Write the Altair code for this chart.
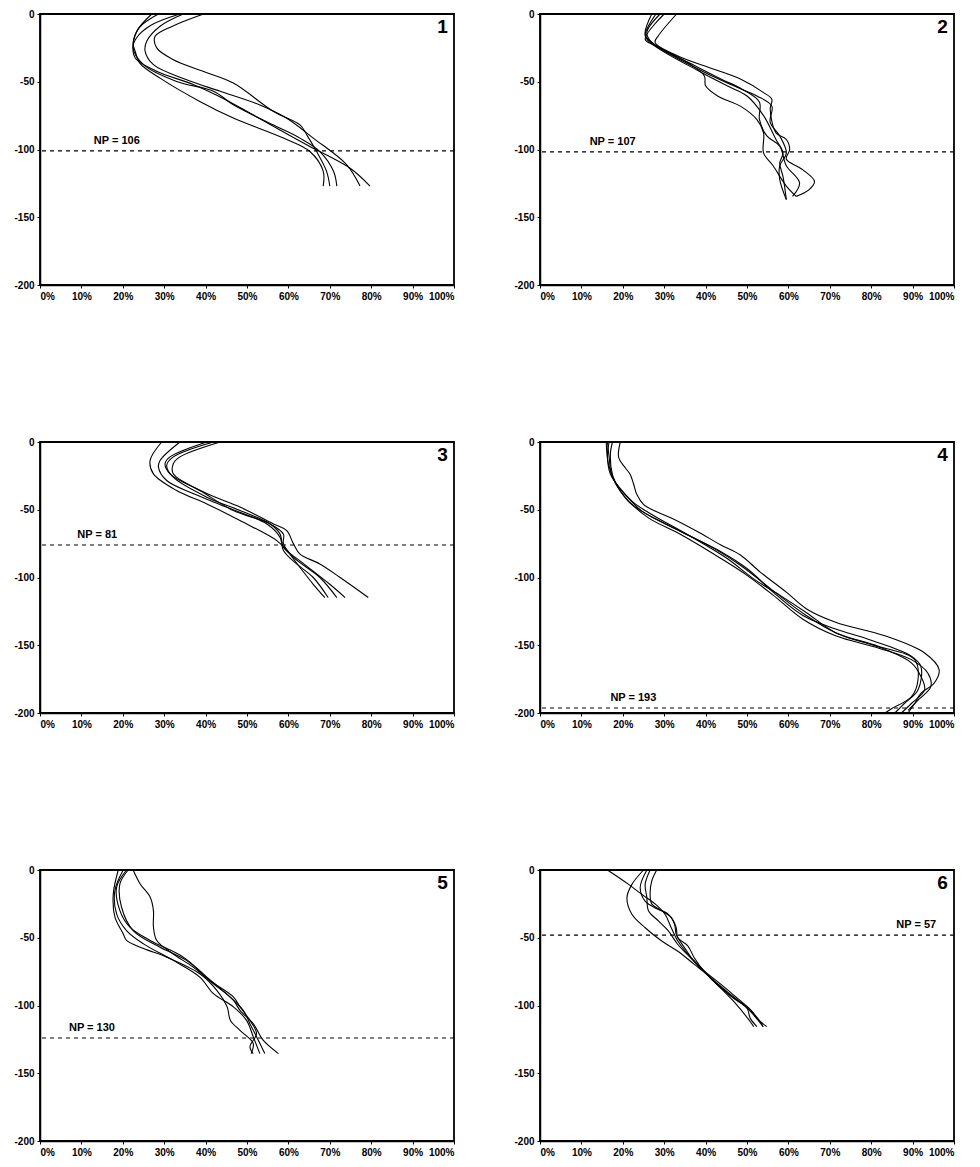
import altair as alt
import pandas as pd

# ---------------- data ----------------
PANEL_IDS = ["1", "2", "3", "4", "5", "6"]
NP_LABELS = ["NP = 106", "NP = 107", "NP = 81", "NP = 193", "NP = 130", "NP = 57"]
NP_DEPTH = [-101, -101.7, -76, -196.3, -124, -48]
NP_LABEL_X = [13, 12, 9, 17, 7, 95.7]

# panel 1 profiles: x = percent, y = depth
P1_X = [
    [27, 23.5, 22.5, 23, 24.1, 29, 38.6, 46.7, 58.8, 65.2, 68.4, 68.4],
    [28.6, 24, 22.5, 23, 28, 37, 42.7, 48.3, 57, 64.4, 75, 79.7],
    [33.8, 27, 23.3, 22.5, 25, 33, 41.9, 46.7, 56.4, 62.8, 67.6, 70.9, 71.7],
    [34.6, 29, 25.8, 25.4, 27.4, 35.4, 43.5, 53, 59.6, 66, 74, 77.3],
    [39.5, 32, 27.8, 28.2, 32.2, 39.5, 46.7, 56.4, 62.8, 64.4, 66.8, 69.2, 70],
]
P1_Y = [
    [0, -12, -22, -27.6, -36.2, -47.3, -64.5, -76.8, -91.6, -101.5, -116, -127],
    [0, -10, -22, -32.5, -42, -52, -60, -69, -84, -96.5, -114, -127],
    [0, -8, -17.7, -25, -37.4, -49.8, -57, -67, -82, -91.6, -101.5, -116, -127],
    [0, -9, -20, -27.6, -37.4, -48.5, -57, -67, -77, -91.6, -111, -127],
    [0, -9, -16.5, -25, -33.7, -42.4, -51, -72, -81.8, -89, -101.5, -116, -127],
]

P2_X = [
    [27, 25.4, 27, 35.7, 39.7, 40, 42.9, 48.4, 52.4, 54, 54, 56.3, 59.5, 61.9],
    [33, 28.6, 27.8, 33.3, 42, 48.4, 54, 56, 55.6, 57, 59.5, 60.3, 59.5, 63.5, 66.3, 65, 61.9],
    [29, 25.8, 27, 37.3, 43.7, 48.8, 53, 53, 54.8, 57.9, 59.5, 62.7, 61],
    [30, 25.4, 27.8, 39.7, 46.8, 52.4, 56, 55.6, 57.9, 59.5, 57.9, 57.9, 59.5],
    [28, 25.4, 27, 38.9, 45.2, 50, 54, 57, 58.7, 57.9, 58.7, 59.5],
]
P2_Y = [
    [0, -15, -21, -36, -45.7, -53, -60.5, -68, -78, -87.7, -102.5, -112, -127, -134.6],
    [0, -16, -21, -31, -40.7, -48, -58, -63, -70, -87.7, -92.6, -100, -107, -115, -123.5, -129.6, -134.6],
    [0, -13.6, -21, -38, -48, -55.5, -65, -77.8, -90, -97.5, -112, -124.7, -134.6],
    [0, -18.5, -23.5, -43, -53, -60.5, -68, -80, -90, -102.5, -112, -122, -137],
    [0, -16, -22, -43, -53, -60.5, -75, -92.6, -102.5, -110, -120, -137],
]

P3_X = [
    [29.4, 26.6, 27.4, 33, 40.3, 48.3, 57.2, 59.6, 62.8, 66, 68.8],
    [33.8, 29, 28.6, 30.6, 37, 45, 54.8, 58, 58.8, 62, 66, 69.6],
    [40.3, 31.4, 30.2, 31.4, 38.6, 46.7, 55.6, 58.8, 58.8, 61.2, 67.6, 71.7],
    [41.9, 32.2, 30.6, 32.2, 40.3, 48.3, 55.6, 58, 58.8, 62.8, 70, 73.7],
    [43.5, 33.8, 32.2, 32.2, 40.3, 48.3, 56.4, 59.6, 61.2, 62.8, 67.6, 72.5, 79.3],
]
P3_Y = [
    [0, -13.6, -23.5, -35.8, -45.7, -58, -72.8, -80, -92.6, -105, -114.8],
    [0, -13.6, -18.5, -28.4, -38, -48, -60.5, -70.4, -80, -90, -100, -114.8],
    [0, -11, -16, -23.5, -35.8, -50.6, -60.5, -68, -75, -85, -100, -114.8],
    [0, -11, -17.3, -26, -40.7, -50.6, -60.5, -68, -77.8, -87.7, -105, -114.8],
    [0, -11, -16, -23.5, -38, -48, -60.5, -65.4, -75, -82.7, -90, -100, -114.8],
]

P4_X = [
    [19.4, 19, 20.6, 21.8, 22.6, 23.4, 25, 27.8, 31.7, 38, 43.7, 48.4, 53.2, 59.5, 64.3, 71.4, 83.3, 92.9, 96.4, 95.2, 92, 90.5, 88.9],
    [17.5, 17, 17.5, 19, 21.4, 24.6, 29.4, 35.7, 43.7, 50, 56.3, 63.5, 71.4, 79.4, 89.7, 92, 91.3, 88, 85.7],
    [16.7, 16.3, 17, 20.6, 24.6, 34, 42, 48.4, 55.6, 64.3, 71.4, 81.7, 90.5, 91.3, 89.7, 84.9, 83.3],
    [16.3, 16.7, 17.5, 22.2, 27, 35.7, 45.2, 51.6, 57.9, 64.3, 71.4, 83.3, 89.7, 92, 92.9, 89.7, 87.3],
    [16, 16.5, 18.3, 21.4, 26.2, 34.1, 43.7, 50, 56.3, 63.5, 71.4, 81.7, 89.7, 93.7, 94.4, 91.3, 88.9],
]
P4_Y = [
    [0, -11.4, -19, -24, -31, -38.8, -46, -51, -56, -66, -76, -83.4, -96, -110.8, -123, -133, -143, -155.7, -168, -178, -185.5, -193, -200],
    [0, -9, -24, -34, -44, -51, -59, -68.7, -81, -93.4, -110.8, -128, -138, -145.7, -158, -165.6, -183, -193, -200],
    [0, -8.7, -23.7, -38.6, -51, -66, -78.5, -91, -108, -128, -140.7, -150.7, -160.6, -175.6, -188, -196.8, -200],
    [0, -11, -26, -43.6, -53.5, -68.5, -86, -101, -113, -125.8, -140.7, -153, -163, -173, -183, -193, -200],
    [0, -16, -31, -43.6, -56, -68.5, -86, -98.4, -113, -130.8, -143, -152, -160.6, -170.6, -180.6, -190.5, -198],
]

P5_X = [
    [22.5, 24.2, 26.6, 27.4, 27.4, 28.2, 32.2, 37, 41.9, 46.7, 48.3, 51.5, 53.9, 57.6],
    [18.9, 17.7, 18.1, 20.1, 20.9, 25, 30.6, 38.6, 42.7, 45.2, 46, 48.3, 51.5, 51],
    [20.1, 18.1, 18.5, 20.9, 25, 32.2, 38.6, 41.9, 46.7, 49.9, 51.5, 53.1],
    [20.9, 18.5, 19.3, 21.7, 26.6, 34.6, 40.3, 45, 49.1, 50.7, 52.3, 54.3],
    [21.3, 19.3, 19.7, 22.5, 29, 35.4, 41, 46.7, 48.3, 50.7, 52.3, 50.7, 51.5],
]
P5_Y = [
    [0, -10.3, -20, -30, -42, -52, -62, -71.7, -84, -96, -103.6, -113.4, -125.6, -135.5],
    [0, -17.7, -34.8, -47, -52, -58, -64.3, -76.6, -88.8, -101, -111, -118.3, -128, -135.5],
    [0, -15, -32.4, -44.7, -54.5, -66.7, -79, -91.3, -101, -111, -123, -135.5],
    [0, -12.8, -30, -42.2, -52, -64.3, -79, -91.3, -103.6, -113.4, -123, -135.5],
    [0, -10.3, -27.5, -44.7, -57, -66.7, -81.5, -93.7, -101, -111, -120.7, -130.5, -135.5],
]

P6_X = [
    [16.3, 21.4, 24.6, 27.8, 30.2, 31.7, 33.3, 35.7, 38.9, 43, 47, 50.8, 52.4, 54.8],
    [25, 22.2, 21, 22.2, 25.4, 29.4, 33.3, 37.3, 40.5, 43.7, 46.8, 50.8, 51.6],
    [25.8, 24.2, 25.4, 27.8, 31, 32.5, 32.9, 34.9, 37.3, 40.5, 45.2, 49.2, 51.6, 53.9],
    [26.6, 25.4, 25.8, 26.2, 28.6, 31, 33.3, 35.7, 38.9, 42.9, 46.8, 50.8, 53.2, 53.9],
    [28.2, 27, 26.6, 27, 29.4, 31.7, 32.9, 33.3, 35.7, 37.3, 39.7, 42.9, 46.8, 50, 50.8, 52.4],
]
P6_Y = [
    [0, -10.6, -18, -25, -32.7, -42.6, -52.4, -62, -72, -85, -95, -103, -109.5, -115.6],
    [0, -10.6, -20.4, -32.7, -42.6, -52.4, -60, -69.7, -77.5, -87.3, -97, -112, -115.6],
    [0, -13, -23, -28, -32.7, -40, -47.5, -57.3, -67.7, -77.5, -89.8, -99.6, -107, -115.6],
    [0, -10.6, -20, -30, -37.6, -45, -55, -62.7, -72.6, -82.4, -92.3, -103, -112, -115.6],
    [0, -8, -18, -25, -30, -35, -42.6, -50, -56, -65, -75, -85, -94.7, -102, -109.5, -115.6],
]

ALL_X = [P1_X, P2_X, P3_X, P4_X, P5_X, P6_X]
ALL_Y = [P1_Y, P2_Y, P3_Y, P4_Y, P5_Y, P6_Y]

X_TICKS = list(range(0, 101, 10))
Y_TICKS = [0, -50, -100, -150, -200]

FONT = "Liberation Sans"
W, H = 414, 271


def make_panel(i):
    rows = []
    for li, (xs, ys) in enumerate(zip(ALL_X[i], ALL_Y[i])):
        for k, (xv, yv) in enumerate(zip(xs, ys)):
            rows.append({"line": li, "idx": k, "pct": xv, "depth": yv})
    prof = pd.DataFrame(rows)

    xenc = alt.X("pct:Q", scale=alt.Scale(domain=[0, 100], nice=False),
                 axis=alt.Axis(values=X_TICKS, labelExpr="datum.value + '%'",
                               title=None, grid=False))
    yenc = alt.Y("depth:Q", scale=alt.Scale(domain=[-200, 0], nice=False),
                 axis=alt.Axis(values=Y_TICKS, labelExpr="'' + datum.value",
                               title=None, grid=False))

    lines = alt.Chart(prof).mark_line(
        color="black", strokeWidth=1.1, interpolate="catmull-rom"
    ).encode(x=xenc, y=yenc, detail="line:N", order="idx:Q")

    npdf = pd.DataFrame({"depth": [NP_DEPTH[i]], "pct": [NP_LABEL_X[i]],
                         "label": [NP_LABELS[i]]})
    rule = alt.Chart(npdf).mark_rule(
        color="black", strokeWidth=1.2, strokeDash=[4, 4]
    ).encode(y="depth:Q")
    align = "right" if i == 5 else "left"
    nptext = alt.Chart(npdf).mark_text(
        align=align, baseline="bottom", dy=-5, fontSize=11,
        fontWeight="bold", font=FONT, color="black"
    ).encode(x="pct:Q", y="depth:Q", text="label:N")

    numdf = pd.DataFrame({"pct": [98.5], "depth": [-3], "num": [PANEL_IDS[i]]})
    num = alt.Chart(numdf).mark_text(
        align="right", baseline="top", fontSize=19, fontWeight="bold",
        font=FONT, color="black"
    ).encode(x="pct:Q", y="depth:Q", text="num:N")

    return alt.layer(lines, rule, nptext, num).properties(width=W, height=H)


rows = []
for r in range(3):
    rows.append(alt.hconcat(make_panel(2 * r), make_panel(2 * r + 1), spacing=57))

chart = alt.vconcat(*rows, spacing=134).properties(
    padding={"left": 5, "top": 0, "right": 0, "bottom": 0}
).configure_view(
    stroke="black", strokeWidth=1.8
).configure_axis(
    labelFont=FONT, labelFontWeight="bold", labelFontSize=10, labelColor="black",
    domainColor="black", domainWidth=1.5, tickColor="black", tickSize=3,
    labelPadding=3
)

chart.save("out.html", embed_options={"renderer": "svg", "actions": False})
